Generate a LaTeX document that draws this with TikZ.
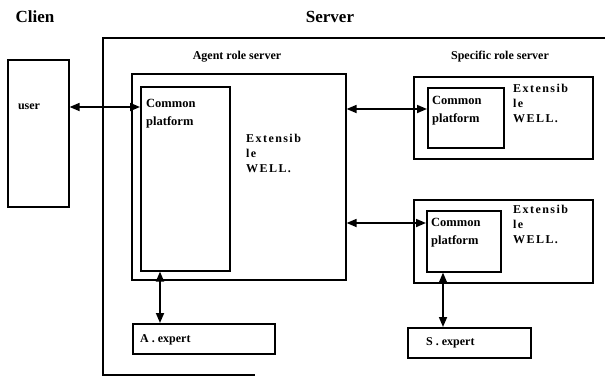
\documentclass[tikz,border=0pt]{standalone}
\usepackage{fontspec}
\setmainfont{Liberation Serif}
\newfontfamily\extf[LetterSpace=12]{Liberation Serif}
\usetikzlibrary{arrows.meta}
\tikzset{
  box/.style={draw, line width=1.6pt, inner sep=0pt, anchor=north west},
  dbl/.style={{Triangle[length=10pt,width=8pt]}-{Triangle[length=10pt,width=8pt]}, line width=1.7pt},
  title/.style={font=\fontsize{17}{20}\selectfont\bfseries, inner sep=0pt},
  lbl/.style={font=\fontsize{12}{14}\selectfont\bfseries, inner sep=0pt},
  cptext/.style={font=\fontsize{12.5}{18}\selectfont\bfseries, inner sep=0pt, anchor=north west, align=left},
  ext/.style={font=\fontsize{12}{15}\selectfont\extf\bfseries, inner sep=0pt, anchor=north west, align=left},
}
\begin{document}
\begin{tikzpicture}[x=1pt,y=-1pt]
\useasboundingbox (0,0) rectangle (605,378);
% titles
\node[title] (tclient) at (35,17) {Clien};
\node[title] (tserver) at (330,17) {Server};
% server outline
\draw[line width=1.4pt] (605,38) -- (103,38) -- (103,375) -- (255,375);
\node[lbl] (tagent) at (237,57) {Agent role server};
\node[lbl] (tspec) at (500,57) {Specific role server};
% client
\node[box, minimum width=61pt, minimum height=147pt] (user) at (7,59) {};
\node[lbl] (tuser) at (29,107) {user};
% agent role server
\node[box, minimum width=214pt, minimum height=206pt] (agent) at (131,73) {};
\node[box, minimum width=89pt, minimum height=184pt] (cpA) at (140,86) {};
\node[cptext] (tcpA) at (146,99) {Common\\platform};
\node[ext] (extA) at (246,134) {Extensib\\le\\WELL.};
\node[box, minimum width=142pt, minimum height=30pt] (aexp) at (132,323) {};
\node[lbl, anchor=west] (taexp) at (140,340) {A . expert};
% specific role server 1
\node[box, minimum width=179pt, minimum height=82pt] (spec1) at (413,76) {};
\node[box, minimum width=76pt, minimum height=60pt] (cp1) at (427,87) {};
\node[cptext] (tcp1) at (432,96) {Common\\platform};
\node[ext] (ext1) at (513,84) {Extensib\\le\\WELL.};
% specific role server 2
\node[box, minimum width=179pt, minimum height=83pt] (spec2) at (413,199) {};
\node[box, minimum width=74pt, minimum height=61pt] (cp2) at (426,210) {};
\node[cptext] (tcp2) at (431,218) {Common\\platform};
\node[ext] (ext2) at (513,205) {Extensib\\le\\WELL.};
\node[box, minimum width=123pt, minimum height=30pt] (sexp) at (407,327) {};
\node[lbl, anchor=west] (tsexp) at (426,343) {S . expert};
% connectors
\draw[dbl] (user.east |- 0,107) -- (cpA.west |- 0,107);
\draw[dbl] (agent.east |- 0,109) -- (cp1.west |- 0,109);
\draw[dbl] (agent.east |- 0,223) -- (cp2.west |- 0,223);
\draw[dbl] (cpA.south -| 160,0) -- (aexp.north -| 160,0);
\draw[dbl] (cp2.south -| 443,0) -- (sexp.north -| 443,0);
\end{tikzpicture}
\end{document}
